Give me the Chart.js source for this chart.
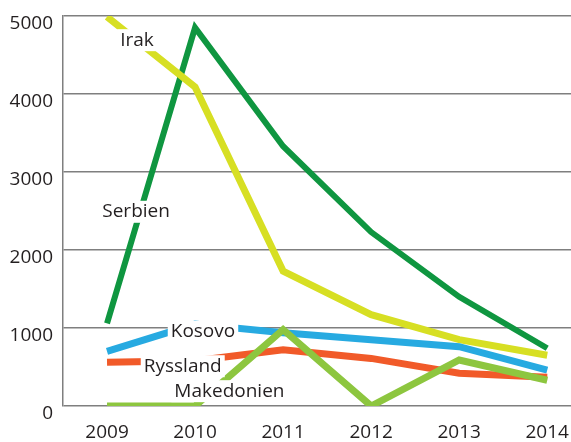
<!DOCTYPE html>
<html>
<head>
<meta charset="utf-8">
<script src="https://cdn.jsdelivr.net/npm/chart.js@4"></script>
<style>
html,body{margin:0;padding:0;background:#fff;}
#wrap{width:571px;height:442px;position:relative;}
</style>
</head>
<body>
<div id="wrap"><canvas id="c"></canvas></div>
<script>
const years = [2009, 2010, 2011, 2012, 2013, 2014];
const yTicks = [0, 1000, 2000, 3000, 4000, 5000];
const serbien    = [1060, 4850, 3330, 2230, 1400, 740];
const irak       = [4990, 4090, 1730, 1170, 850, 650];
const kosovo     = [700, 1050, 940, 850, 760, 460];
const ryssland   = [560, 580, 720, 610, 420, 370];
const makedonien = [0, 0, 980, 0, 590, 330];
const seriesNames = ['Serbien', 'Irak', 'Kosovo', 'Ryssland', 'Makedonien'];
// label anchor in data coordinates [x, y]
const labelAnchors = {
  'Irak': [2009.34, 4690],
  'Serbien': [2009.33, 2490],
  'Kosovo': [2010.09, 950],
  'Ryssland': [2009.86, 510],
  'Makedonien': [2010.39, 190]
};

const FONT = '"Open Sans", sans-serif';
const pts = arr => arr.map((v, i) => ({x: years[i], y: v}));

function ds(label, data, color, w) {
  return {label, data: pts(data), borderColor: color, backgroundColor: color,
    borderWidth: w, pointRadius: 0, tension: 0, fill: false, borderJoinStyle: 'miter', borderCapStyle: 'butt'};
}

const labelPlugin = {
  id: 'seriesLabels',
  afterDatasetsDraw(chart) {
    const ctx = chart.ctx;
    const xs = chart.scales.x, ys = chart.scales.y;
    ctx.save();
    ctx.font = '19px ' + FONT;
    ctx.textAlign = 'center';
    ctx.textBaseline = 'middle';
    seriesNames.forEach(name => {
      const a = labelAnchors[name];
      const px = xs.getPixelForValue(a[0]);
      const py = ys.getPixelForValue(a[1]);
      const w = ctx.measureText(name).width;
      ctx.fillStyle = '#ffffff';
      ctx.fillRect(px - w / 2 - 3, py - 11, w + 6, 22);
      ctx.fillStyle = '#231f20';
      ctx.fillText(name, px, py);
    });
    ctx.restore();
  }
};

new Chart(document.getElementById('c'), {
  type: 'line',
  data: {
    datasets: [
      ds('Makedonien', makedonien, '#8dc63f', 7),
      ds('Ryssland', ryssland, '#f15a29', 7),
      ds('Kosovo', kosovo, '#27aae1', 7),
      ds('Irak', irak, '#d7df23', 7),
      ds('Serbien', serbien, '#0f9640', 6)
    ]
  },
  options: {
    responsive: true,
    maintainAspectRatio: false,
    animation: false,
    layout: {padding: {top: 16, right: 0, left: 0, bottom: 0}},
    plugins: {legend: {display: false}, tooltip: {enabled: false}},
    scales: {
      x: {
        type: 'linear',
        min: 2008.5,
        max: 2014.27,
        afterBuildTicks: s => { s.ticks = years.map(v => ({value: v})); },
        afterFit: s => { s.height = 36; s.paddingLeft = 0; s.paddingRight = 0; },
        grid: {display: false},
        border: {display: false},
        ticks: {
          font: {family: FONT, size: 19},
          color: '#231f20',
          padding: 7,
          maxRotation: 0,
          autoSkip: false,
          callback: v => String(v)
        }
      },
      y: {
        min: 0,
        max: 5000,
        afterBuildTicks: s => { s.ticks = yTicks.map(v => ({value: v})); },
        afterFit: s => { s.width = 63; s.paddingTop = 0; s.paddingBottom = 0; },
        grid: {color: '#7f7f7f', lineWidth: 1.5, drawTicks: false},
        border: {display: true, color: '#7f7f7f', width: 1.5},
        ticks: {
          font: {family: FONT, size: 19},
          color: '#231f20',
          padding: 10,
          labelOffset: 8,
          callback: v => String(v)
        }
      }
    }
  },
  plugins: [labelPlugin]
});
</script>
</body>
</html>
